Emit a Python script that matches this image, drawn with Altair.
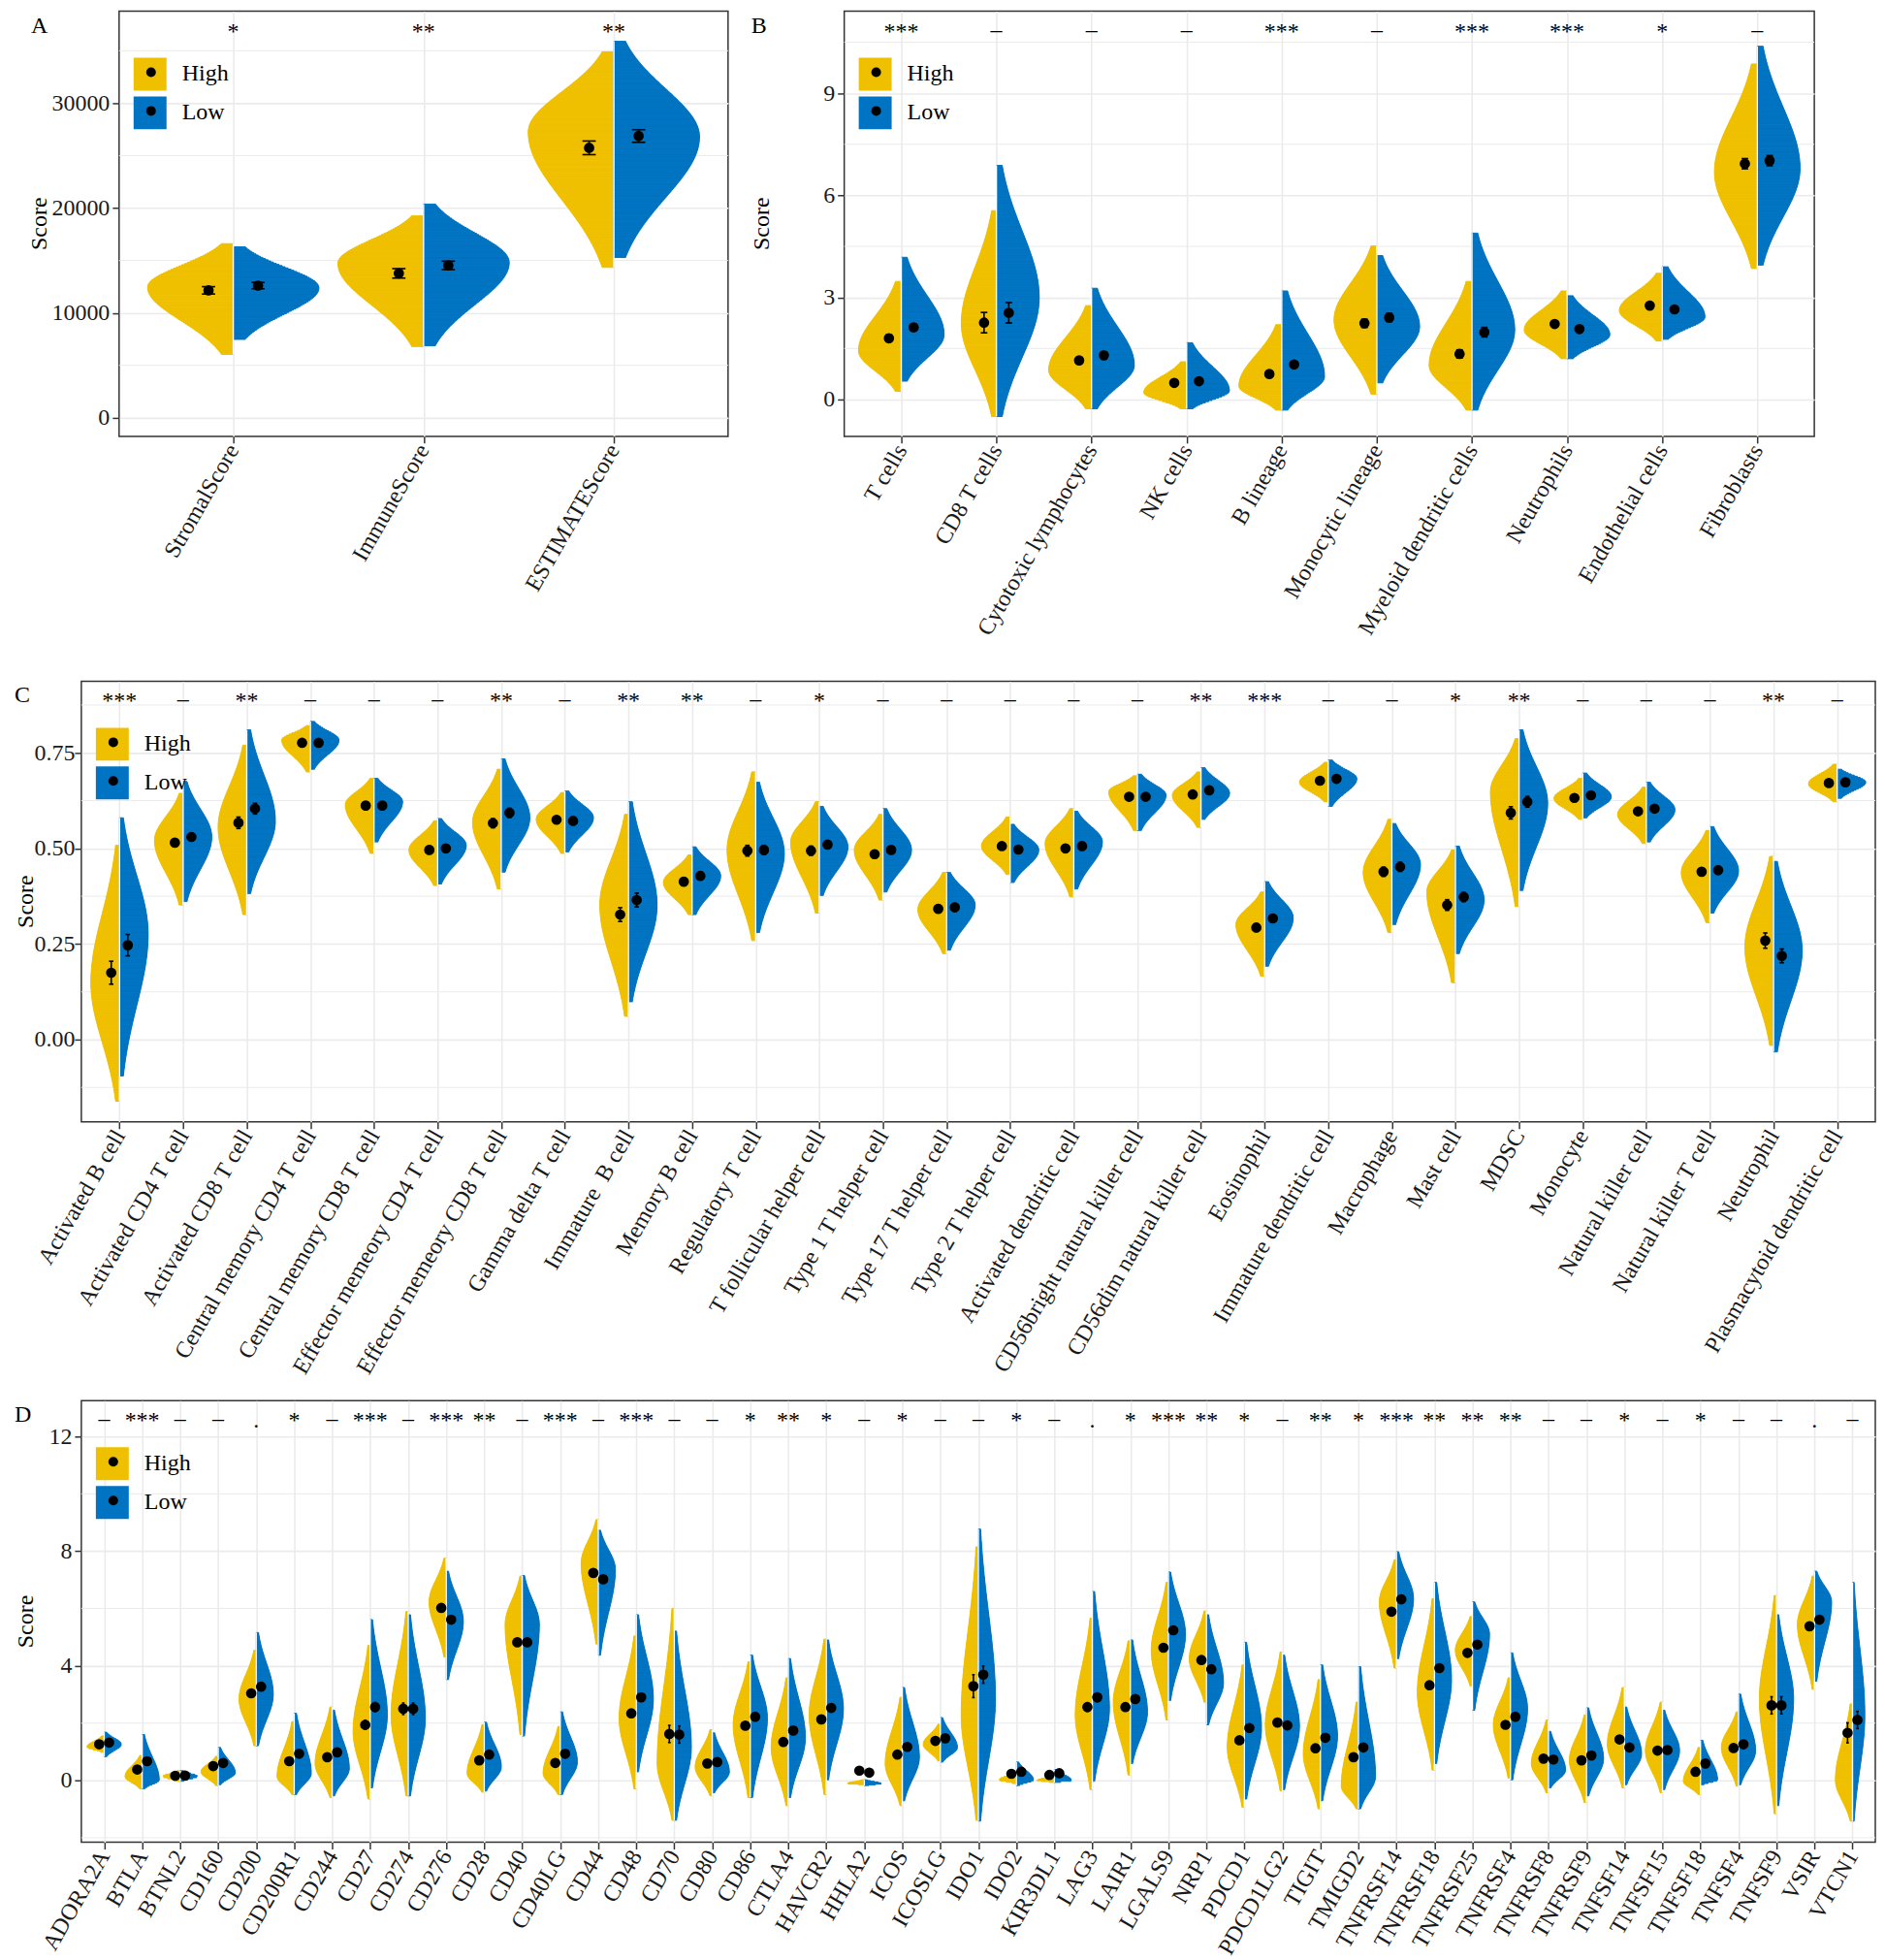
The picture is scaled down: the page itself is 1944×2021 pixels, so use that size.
import json
import numpy as np
import pandas as pd
import altair as alt

alt.data_transformers.disable_max_rows()

FONT = "Liberation Serif"
HIGH_C = "#EFC000"
LOW_C = "#0073C2"
GRID_C = "#EBEBEB"

# ---------------- Panel A ----------------
cats_A = ["StromalScore", "ImmuneScore", "ESTIMATEScore"]
sig_A = ["*", "**", "**"]
A_high_lo = [6040, 6790, 14340]
A_high_hi = [16600, 19250, 34900]
A_high_mode = [12450, 14720, 27250]
A_low_lo = [7470, 6870, 15280]
A_low_hi = [16300, 20380, 35900]
A_low_mode = [12380, 14800, 26790]
A_high_mean = [12150, 13770, 25740]
A_low_mean = [12600, 14530, 26870]
A_high_err = [350, 450, 650]
A_low_err = [300, 400, 600]

# ---------------- Panel B ----------------
cats_B = ["T cells", "CD8 T cells", "Cytotoxic lymphocytes", "NK cells", "B lineage",
          "Monocytic lineage", "Myeloid dendritic cells", "Neutrophils", "Endothelial cells", "Fibroblasts"]
sig_B = ["***", "–", "–", "–", "***", "–", "***", "***", "*", "–"]
B_high_lo = [0.24, -0.50, -0.27, -0.27, -0.31, 0.16, -0.31, 1.20, 1.72, 3.85]
B_high_hi = [3.47, 5.55, 2.76, 1.11, 2.20, 4.51, 3.47, 3.19, 3.71, 9.86]
B_high_mode = [1.44, 2.24, 0.87, 0.21, 0.40, 2.34, 1.01, 2.05, 2.62, 6.69]
B_low_lo = [0.54, -0.50, -0.27, -0.27, -0.31, 0.49, -0.31, 1.20, 1.77, 3.95]
B_low_hi = [4.18, 6.88, 3.27, 1.67, 3.19, 4.23, 4.89, 3.05, 3.90, 10.38]
B_low_mode = [1.91, 3.00, 1.01, 0.26, 0.68, 2.15, 2.05, 1.91, 2.43, 6.79]
B_high_mean = [1.80, 2.26, 1.15, 0.49, 0.75, 2.24, 1.34, 2.22, 2.76, 6.93]
B_low_mean = [2.12, 2.55, 1.30, 0.54, 1.03, 2.41, 1.98, 2.07, 2.65, 7.02]
B_high_err = [0.10, 0.30, 0.08, 0.06, 0.08, 0.12, 0.12, 0.08, 0.07, 0.15]
B_low_err = [0.10, 0.30, 0.10, 0.06, 0.08, 0.12, 0.14, 0.08, 0.07, 0.15]

# ---------------- Panel C ----------------
cats_C = ["Activated B cell", "Activated CD4 T cell", "Activated CD8 T cell", "Central memory CD4 T cell",
          "Central memory CD8 T cell", "Effector memeory CD4 T cell", "Effector memeory CD8 T cell",
          "Gamma delta T cell", "Immature\u00a0 B cell", "Memory B cell", "Regulatory T cell",
          "T follicular helper cell", "Type 1 T helper cell", "Type 17 T helper cell", "Type 2 T helper cell",
          "Activated dendritic cell", "CD56bright natural killer cell", "CD56dim natural killer cell",
          "Eosinophil", "Immature dendritic cell", "Macrophage", "Mast cell", "MDSC", "Monocyte",
          "Natural killer cell", "Natural killer T cell", "Neutrophil", "Plasmacytoid dendritic cell"]
sig_C = ["***", "–", "**", "–", "–", "–", "**", "–", "**", "**", "–", "*", "–", "–",
         "–", "–", "–", "**", "***", "–", "–", "*", "**", "–", "–", "–", "**", "–"]
C_high_lo = [-0.161, 0.352, 0.327, 0.700, 0.487, 0.403, 0.394, 0.487, 0.061, 0.327, 0.259, 0.331, 0.365, 0.225,
             0.432, 0.373, 0.547, 0.555, 0.166, 0.622, 0.280, 0.149, 0.348, 0.576, 0.513, 0.306, -0.015, 0.622]
C_high_hi = [0.508, 0.644, 0.770, 0.821, 0.683, 0.572, 0.707, 0.646, 0.589, 0.483, 0.700, 0.622, 0.589, 0.437,
             0.582, 0.604, 0.690, 0.700, 0.386, 0.725, 0.576, 0.496, 0.787, 0.683, 0.660, 0.547, 0.479, 0.720]
C_high_mode = [0.149, 0.521, 0.555, 0.783, 0.614, 0.496, 0.568, 0.576, 0.352, 0.411, 0.496, 0.517, 0.496, 0.340,
               0.506, 0.513, 0.648, 0.639, 0.301, 0.673, 0.437, 0.386, 0.648, 0.631, 0.589, 0.437, 0.242, 0.669]
C_low_lo = [-0.095, 0.361, 0.382, 0.707, 0.517, 0.407, 0.438, 0.491, 0.099, 0.327, 0.280, 0.377, 0.386, 0.234,
            0.411, 0.394, 0.547, 0.576, 0.192, 0.610, 0.301, 0.225, 0.390, 0.580, 0.517, 0.331, -0.032, 0.631]
C_low_hi = [0.580, 0.675, 0.810, 0.832, 0.683, 0.578, 0.734, 0.650, 0.622, 0.504, 0.673, 0.610, 0.604, 0.437,
            0.563, 0.597, 0.694, 0.711, 0.413, 0.731, 0.565, 0.506, 0.810, 0.697, 0.673, 0.557, 0.466, 0.707]
C_low_mode = [0.276, 0.530, 0.572, 0.783, 0.622, 0.508, 0.580, 0.580, 0.352, 0.428, 0.487, 0.504, 0.496, 0.352,
              0.496, 0.517, 0.639, 0.644, 0.318, 0.682, 0.458, 0.365, 0.618, 0.635, 0.601, 0.441, 0.234, 0.673]
C_high_mean = [0.175, 0.515, 0.567, 0.776, 0.612, 0.496, 0.566, 0.575, 0.327, 0.413, 0.494, 0.494, 0.485, 0.342,
               0.506, 0.500, 0.635, 0.641, 0.293, 0.677, 0.439, 0.352, 0.593, 0.632, 0.597, 0.439, 0.259, 0.671]
C_low_mean = [0.247, 0.530, 0.604, 0.776, 0.612, 0.500, 0.593, 0.572, 0.365, 0.428, 0.496, 0.510, 0.496, 0.346,
              0.497, 0.506, 0.635, 0.652, 0.317, 0.682, 0.452, 0.373, 0.622, 0.639, 0.604, 0.443, 0.219, 0.673]
C_high_err = [0.030, 0.010, 0.015, 0.008, 0.010, 0.010, 0.012, 0.008, 0.018, 0.010, 0.014, 0.012, 0.010, 0.010,
              0.008, 0.010, 0.008, 0.008, 0.010, 0.006, 0.012, 0.014, 0.016, 0.006, 0.008, 0.010, 0.020, 0.006]
C_low_err = [0.028, 0.010, 0.014, 0.008, 0.010, 0.010, 0.012, 0.008, 0.018, 0.010, 0.012, 0.010, 0.010, 0.010,
             0.008, 0.010, 0.008, 0.008, 0.010, 0.006, 0.012, 0.012, 0.014, 0.006, 0.008, 0.010, 0.018, 0.006]

# ---------------- Panel D ----------------
cats_D = ["ADORA2A", "BTLA", "BTNL2", "CD160", "CD200", "CD200R1", "CD244", "CD27", "CD274", "CD276", "CD28",
          "CD40", "CD40LG", "CD44", "CD48", "CD70", "CD80", "CD86", "CTLA4", "HAVCR2", "HHLA2", "ICOS", "ICOSLG",
          "IDO1", "IDO2", "KIR3DL1", "LAG3", "LAIR1", "LGALS9", "NRP1", "PDCD1", "PDCD1LG2", "TIGIT", "TMIGD2",
          "TNFRSF14", "TNFRSF18", "TNFRSF25", "TNFRSF4", "TNFRSF8", "TNFRSF9", "TNFSF14", "TNFSF15", "TNFSF18",
          "TNFSF4", "TNFSF9", "VSIR", "VTCN1"]
sig_D = ["–", "***", "–", "–", ".", "*", "–", "***", "–", "***", "**", "–", "***", "–", "***", "–", "–", "*",
         "**", "*", "–", "*", "–", "–", "*", "–", ".", "*", "***", "**", "*", "–", "**", "*", "***", "**", "**",
         "**", "–", "–", "*", "–", "*", "–", "–", ".", "–"]
D_high_lo = [0.98, -0.29, -0.03, -0.18, 1.21, -0.49, -0.60, -0.65, -0.54, 4.31, -0.41, 1.60, -0.49, 4.76, -0.29,
             -1.39, -0.54, -0.60, -0.88, -0.49, -0.15, -0.88, 0.68, -1.39, -0.11, -0.07, -0.32, 0.19, 2.11, 2.73,
             -0.94, -0.37, -0.99, -0.99, 3.92, 0.36, 3.29, 0.08, -0.43, -0.77, -0.26, -0.43, -0.49, -0.20, -1.16,
             3.18, -1.42]
D_high_hi = [1.55, 0.87, 0.34, 0.84, 4.54, 2.05, 2.56, 4.71, 5.89, 7.75, 1.94, 7.13, 1.88, 9.10, 5.04, 6.00, 1.77,
             4.14, 3.58, 4.93, 0.02, 2.90, 1.96, 8.15, 0.27, 0.16, 5.66, 4.87, 6.91, 5.91, 4.03, 4.48, 3.52, 2.73,
             7.69, 6.34, 5.72, 3.58, 2.11, 2.28, 3.24, 2.73, 1.15, 2.39, 6.45, 7.13, 2.67]
D_high_mode = [1.17, 0.14, 0.14, 0.30, 2.84, 0.14, 0.59, 1.72, 2.28, 6.23, 0.25, 5.44, 0.25, 7.58, 2.17, 0.59, 0.47,
               1.94, 1.15, 2.28, -0.11, 0.59, 1.26, 2.28, 0.02, 0.00, 2.28, 2.73, 4.54, 4.25, 1.15, 1.94, 0.93,
               -0.20, 6.23, 3.07, 4.54, 1.94, 0.59, 0.70, 1.26, 1.04, -0.03, 1.15, 2.84, 5.44, 0.02]
D_low_lo = [0.83, -0.29, -0.03, -0.15, 1.21, -0.49, -0.54, -0.26, -0.54, 3.52, -0.37, 1.55, -0.49, 4.37, 0.30,
            -1.39, -0.43, -0.60, -0.60, 0.02, -0.18, -0.71, 0.64, -1.42, -0.18, -0.07, -0.03, 0.59, 2.79, 1.94,
            -0.65, -0.32, -0.71, -0.99, 4.25, 0.59, 2.45, 0.02, -0.26, -0.54, -0.15, -0.32, -0.15, -0.15, -0.88,
            3.46, -1.42]
D_low_hi = [1.68, 1.60, 0.34, 1.15, 5.16, 2.34, 2.45, 5.61, 5.78, 7.30, 2.03, 7.15, 2.39, 8.73, 5.78, 5.21, 1.66,
            4.37, 4.25, 4.90, 0.02, 3.24, 2.19, 8.77, 0.64, 0.38, 6.59, 4.90, 7.27, 5.78, 4.82, 4.37, 4.03, 3.97,
            7.98, 6.91, 6.23, 4.45, 1.71, 2.53, 2.56, 2.45, 1.40, 3.01, 5.78, 7.30, 6.91]
D_low_mode = [1.26, 0.02, 0.14, 0.27, 3.01, 0.25, 0.42, 2.28, 2.17, 5.55, 0.47, 5.44, 0.64, 7.36, 2.84, 1.15, 0.30,
              2.17, 1.49, 2.50, -0.11, 0.81, 1.15, 2.84, 0.02, 0.00, 2.50, 2.39, 5.10, 3.41, 1.83, 1.88, 1.55, 0.14,
              6.34, 3.52, 5.10, 2.50, 0.36, 0.76, 0.93, 1.04, 0.02, 1.04, 2.84, 6.23, 2.28]
D_high_mean = [1.26, 0.38, 0.16, 0.50, 3.04, 0.67, 0.81, 1.94, 2.50, 6.02, 0.70, 4.82, 0.61, 7.24, 2.34, 1.62, 0.59,
               1.91, 1.34, 2.13, 0.34, 0.90, 1.38, 3.29, 0.23, 0.19, 2.56, 2.56, 4.63, 4.20, 1.40, 2.02, 1.12, 0.81,
               5.89, 3.32, 4.45, 1.94, 0.76, 0.70, 1.43, 1.04, 0.30, 1.13, 2.62, 5.38, 1.66]
D_low_mean = [1.32, 0.67, 0.17, 0.61, 3.27, 0.93, 0.98, 2.56, 2.50, 5.61, 0.90, 4.82, 0.93, 7.02, 2.90, 1.60, 0.64,
              2.22, 1.74, 2.53, 0.27, 1.17, 1.47, 3.69, 0.30, 0.25, 2.90, 2.84, 5.24, 3.88, 1.83, 1.92, 1.49, 1.15,
              6.32, 3.92, 4.74, 2.22, 0.73, 0.87, 1.15, 1.06, 0.59, 1.26, 2.62, 5.61, 2.11]
D_err_default = 0.12
D_high_err_over = {"CD27": 0.16, "CD274": 0.2, "CD70": 0.3, "IDO1": 0.4, "LAG3": 0.15, "TNFSF9": 0.3, "VTCN1": 0.35}
D_low_err_over = {"CD27": 0.16, "CD274": 0.2, "CD70": 0.3, "IDO1": 0.3, "LAG3": 0.15, "TNFSF9": 0.3, "VTCN1": 0.3}

# relative half-width of each half violin (1 = full 0.45 category width)
B_high_wf = {"CD8 T cells": 0.82}
D_low_wf = {"VTCN1": 0.72}


def profile(ys, lo, hi, mode):
    sl = max((mode - lo) / 2.0, 1e-9)
    sh = max((hi - mode) / 2.0, 1e-9)
    s = np.where(ys < mode, sl, sh)
    return np.exp(-0.5 * ((ys - mode) / s) ** 2)


ONE = pd.DataFrame({"k": [0]})


def text_layer(txt, x, y, **kw):
    return alt.Chart(ONE).mark_text(font=FONT, fontSize=24, color="black", **kw).encode(
        x=alt.value(x), y=alt.value(y), text=alt.value(txt))


def ghost(x, y=0):
    # invisible 1px mark that only fixes the layout bounds
    return alt.Chart(ONE).mark_rule(color="white", strokeWidth=1, opacity=0.01).encode(
        x=alt.value(x), x2=alt.value(x + 1), y=alt.value(y))


def side(H):
    return alt.layer(ghost(0)).properties(width=1, height=H, view=alt.ViewBackground(stroke="transparent"))


def panel(letter, cats, sig, hl, hh, hm, ll, lh, lm, hmean, lmean, herr, lerr, hwf, lwf,
          ydom, yticks, yminor, yfmt, W, H, own, ylabpad=3):
    n = len(cats)
    for arr in (sig, hl, hh, hm, ll, lh, lm, hmean, lmean, herr, lerr):
        assert len(arr) == n, (letter, len(arr), n)
    HALF = 0.45
    yr = ydom[1] - ydom[0]
    ppu = H / yr
    rows = []
    sep = []
    for i, c in enumerate(cats):
        for grp, lo, hi, mo, wf, sgn in (("High", hl[i], hh[i], hm[i], hwf.get(c, 1.0), -1),
                                         ("Low", ll[i], lh[i], lm[i], lwf.get(c, 1.0), 1)):
            ns = int(np.clip((hi - lo) * ppu / 1.2, 8, 400))
            edges = np.linspace(lo, hi, ns + 1)
            mids = 0.5 * (edges[:-1] + edges[1:])
            w = profile(mids, lo, hi, mo) * HALF * wf
            for k in range(ns):
                if sgn < 0:
                    xl, xr = i - w[k], i
                else:
                    xl, xr = i, i + w[k]
                rows.append(dict(group=grp, y=round(float(edges[k]), 5), y2=round(float(edges[k + 1]), 5),
                                 xl=round(float(xl), 5), xr=round(float(xr), 5)))
        sep.append(dict(x=i, y=min(hl[i], ll[i]), y2=max(hh[i], lh[i])))
    vdf = pd.DataFrame(rows)
    sepdf = pd.DataFrame(sep)

    prow = []
    for i in range(n):
        for grp, m, e, off in (("High", hmean[i], herr[i], -0.13), ("Low", lmean[i], lerr[i], 0.13)):
            prow.append(dict(px=i + off, cx1=i + off - 0.035, cx2=i + off + 0.035,
                             m=m, elo=m - e, ehi=m + e, group=grp))
    pdf = pd.DataFrame(prow)

    sig_y = ydom[1] - 28.0 / ppu
    sdf = pd.DataFrame({"x": list(range(n)), "s": sig, "y": [sig_y] * n})

    labexpr = json.dumps(cats) + "[datum.value]"
    xscale = alt.Scale(domain=[-0.6, n - 0.4], nice=False, zero=False)
    xaxis = alt.Axis(values=list(range(n)), labelExpr=labexpr, labelAngle=-60, labelAlign="right",
                     labelBaseline="middle", labelOverlap=False, labelBound=False, labelFlush=False,
                     labelLimit=600, labelPadding=3, title=None, grid=True)
    yscale = alt.Scale(domain=ydom, nice=False, zero=False)
    yaxis = alt.Axis(values=yticks, format=yfmt, title=None, grid=True, labelPadding=ylabpad,
                     labelOverlap=False, labelFlush=False, labelBound=False)

    X = lambda f: alt.X(f, scale=xscale, axis=xaxis)
    Y = lambda f: alt.Y(f, scale=yscale, axis=yaxis)
    cscale = alt.Scale(domain=["High", "Low"], range=[HIGH_C, LOW_C])

    minor = alt.Chart(pd.DataFrame({"mn": yminor})).mark_rule(color=GRID_C, strokeWidth=1).encode(y=Y("mn:Q"))
    viol = alt.Chart(vdf).mark_rect(strokeWidth=1.0).encode(
        x=X("xl:Q"), x2="xr:Q", y=Y("y:Q"), y2="y2:Q",
        color=alt.Color("group:N", scale=cscale, legend=None),
        stroke=alt.Stroke("group:N", scale=cscale, legend=None))
    sepl = alt.Chart(sepdf).mark_rule(color="white", strokeWidth=1.4).encode(
        x=X("x:Q"), y=Y("y:Q"), y2="y2:Q")
    err = alt.Chart(pdf).mark_rule(color="black", strokeWidth=1.6).encode(x=X("px:Q"), y=Y("elo:Q"), y2="ehi:Q")
    cap1 = alt.Chart(pdf).mark_rule(color="black", strokeWidth=1.6).encode(x=X("cx1:Q"), x2="cx2:Q", y=Y("elo:Q"))
    cap2 = alt.Chart(pdf).mark_rule(color="black", strokeWidth=1.6).encode(x=X("cx1:Q"), x2="cx2:Q", y=Y("ehi:Q"))
    pts = alt.Chart(pdf).mark_circle(size=115, color="black", opacity=1).encode(x=X("px:Q"), y=Y("m:Q"))
    stars = alt.Chart(sdf).transform_filter("datum.s != '–'").mark_text(
        font=FONT, fontSize=24, baseline="alphabetic", color="black").encode(x=X("x:Q"), y=Y("y:Q"), text="s:N")
    dashes = alt.Chart(sdf).transform_filter("datum.s == '–'").mark_text(
        font=FONT, fontSize=24, baseline="alphabetic", color="black", dy=-2).encode(x=X("x:Q"), y=Y("y:Q"), text="s:N")

    legend = []
    for j, (lab, col) in enumerate((("High", HIGH_C), ("Low", LOW_C))):
        cy = 65 + 40 * j
        legend.append(alt.Chart(ONE).mark_square(size=1156, color=col, opacity=1).encode(
            x=alt.value(32), y=alt.value(cy)))
        legend.append(alt.Chart(ONE).mark_circle(size=100, color="black", opacity=1).encode(
            x=alt.value(33), y=alt.value(cy - 2)))
        legend.append(text_layer(lab, 65, cy, align="left", baseline="middle"))
    letter_dx, title_dx, ext = own
    layers = [minor, viol, sepl, err, cap1, cap2, pts, stars, dashes] + legend + [
        text_layer(letter, letter_dx, 3, align="left", baseline="top"),
        text_layer("Score", title_dx, H / 2, align="center", baseline="middle", angle=270),
        ghost(-ext, 20)]
    return alt.layer(*layers).properties(width=W, height=H)


pA = panel("A", cats_A, sig_A, A_high_lo, A_high_hi, A_high_mode, A_low_lo, A_low_hi, A_low_mode,
           A_high_mean, A_low_mean, A_high_err, A_low_err, {}, {},
           [-1770, 38770], [0, 10000, 20000, 30000], [5000, 15000, 25000, 35000], "d",
           629, 439, own=(-91, -82, 108))
pB = panel("B", cats_B, sig_B, B_high_lo, B_high_hi, B_high_mode, B_low_lo, B_low_hi, B_low_mode,
           B_high_mean, B_low_mean, B_high_err, B_low_err, B_high_wf, {},
           [-1.08, 11.41], [0, 3, 6, 9], [1.5, 4.5, 7.5, 10.5], "d",
           1002, 439, own=(-96, -85, 116))
pC = panel("C", cats_C, sig_C, C_high_lo, C_high_hi, C_high_mode, C_low_lo, C_low_hi, C_low_mode,
           C_high_mean, C_low_mean, C_high_err, C_low_err, {}, {},
           [-0.215, 0.937], [0, 0.25, 0.5, 0.75], [-0.125, 0.125, 0.375, 0.625, 0.875], ".2f",
           1853, 455, own=(-69, -57, 69), ylabpad=0)
D_high_err = [D_high_err_over.get(c, D_err_default) for c in cats_D]
D_low_err = [D_low_err_over.get(c, D_err_default) for c in cats_D]
pD = panel("D", cats_D, sig_D, D_high_lo, D_high_hi, D_high_mode, D_low_lo, D_low_hi, D_low_mode,
           D_high_mean, D_low_mean, D_high_err, D_low_err, {}, D_low_wf,
           [-2.16, 13.25], [0, 4, 8, 12], [-2, 2, 6, 10], "d",
           1853, 456, own=(-69, -57, 69))

rowA = alt.hconcat(side(439), pA, pB, spacing=0)
rowC = alt.hconcat(side(455), pC, spacing=0)
rowD = alt.hconcat(side(456), pD, spacing=0)

bottom = alt.vconcat(rowC, rowD, spacing=20)
chart = alt.vconcat(rowA, bottom, spacing=40).properties(
    padding=0, background="white"
).configure_view(
    stroke="#333333", strokeWidth=1.5
).configure_axis(
    labelFont=FONT, titleFont=FONT, labelFontSize=24, titleFontSize=24, labelColor="#1a1a1a",
    titleColor="black", titleFontWeight="normal", gridColor=GRID_C, gridWidth=1.6,
    tickColor="#333333", tickWidth=1.5, tickSize=7, domain=False
)

chart.save("out.html", embed_options={"renderer": "svg", "actions": False})
